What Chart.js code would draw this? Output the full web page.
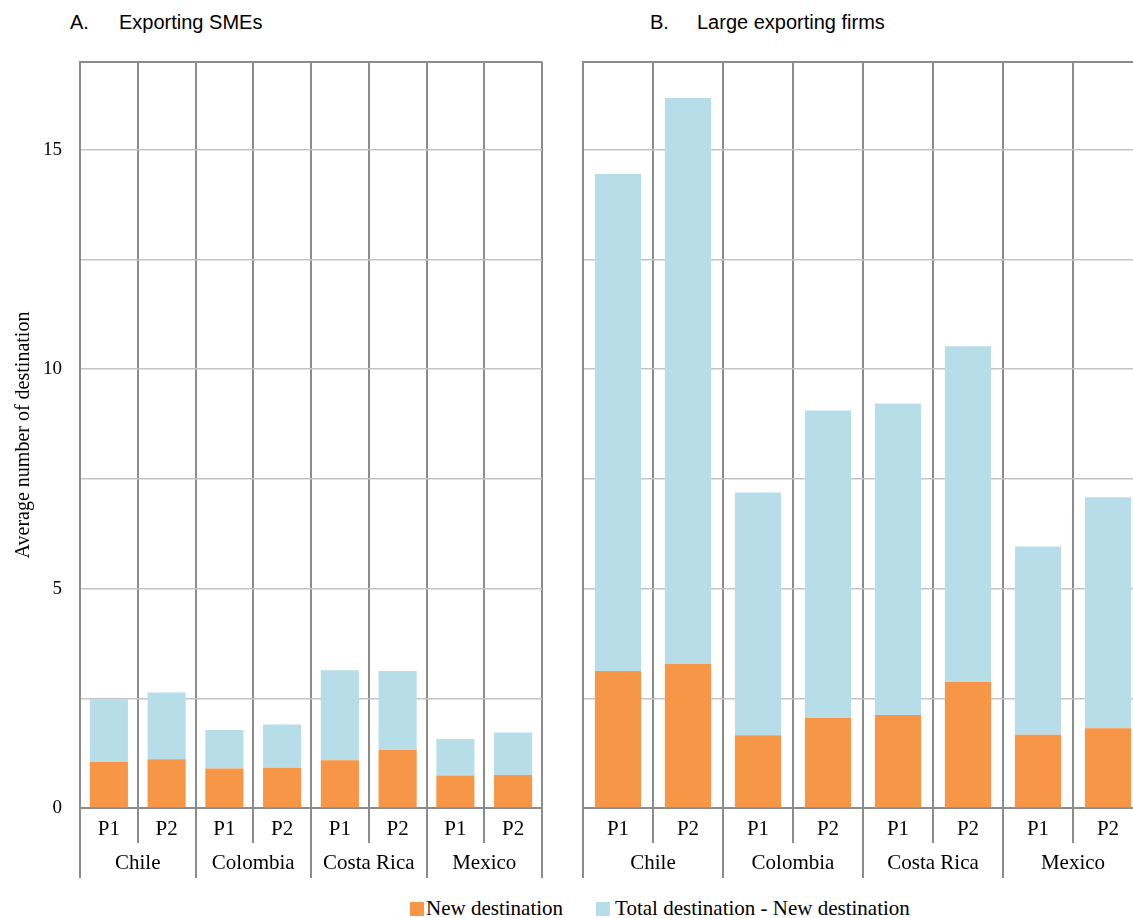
<!DOCTYPE html>
<html>
<head>
<meta charset="utf-8">
<script src="https://cdn.jsdelivr.net/npm/chart.js@4.4.1/dist/chart.umd.min.js"></script>
<style>
body{margin:0;width:1133px;height:918px;overflow:hidden;background:#fff;position:relative;}
.titulo{position:absolute;top:11px;font-family:"Liberation Sans",Arial,sans-serif;font-size:20px;color:#000;white-space:nowrap;}
canvas{position:absolute;top:0;}
#leyenda{position:absolute;top:896px;left:410px;font-family:"Liberation Serif","Times New Roman",serif;font-size:21px;color:#000;white-space:nowrap;display:flex;}
#leyenda .item{display:flex;align-items:center;margin-right:33px;}
#leyenda .cuadro{width:14px;height:14px;margin-right:2px;}
#leyenda .item + .item .cuadro{margin-right:5px;}
</style>
</head>
<body>
<div class="titulo" style="left:70px">A.</div>
<div class="titulo" style="left:119px">Exporting SMEs</div>
<div class="titulo" style="left:650px">B.</div>
<div class="titulo" style="left:697px">Large exporting firms</div>
<canvas id="graficaA" width="560" height="880" style="left:0"></canvas>
<canvas id="graficaB" width="600" height="880" style="left:563px"></canvas>
<div id="leyenda"></div>
<script>
var periodos = ['P1','P2','P1','P2','P1','P2','P1','P2'];
var paises = ['Chile','Colombia','Costa Rica','Mexico'];

var pymesNuevo = [1.05, 1.11, 0.90, 0.92, 1.09, 1.32, 0.74, 0.75];
var pymesTotal = [2.48, 2.63, 1.78, 1.90, 3.14, 3.12, 1.57, 1.72];
var grandesNuevo = [3.12, 3.28, 1.66, 2.05, 2.12, 2.87, 1.67, 1.82];
var grandesTotal = [14.45, 16.18, 7.19, 9.06, 9.22, 10.52, 5.96, 7.08];

var lineasY = [0, 2.5, 5, 7.5, 10, 12.5, 15, 17];
var etiquetasY = [0, 5, 10, 15];

var nombres = ['New destination', 'Total destination - New destination'];
var colores = ['#F79646', '#B7DDE8'];

var gris = '#8c8c8c';
var grisClaro = '#c3c3c3';

Chart.defaults.font.family = '"Liberation Serif", "Times New Roman", serif';
Chart.defaults.color = '#000';

function restar(total, nuevo){
	return total.map(function(t, i){ return +(t - nuevo[i]).toFixed(2); });
}

function datos(nuevo, total){
	var series = [nuevo, restar(total, nuevo)];
	return {
		labels: periodos,
		datasets: series.map(function(s, i){
			return {
				label: nombres[i],
				data: s,
				backgroundColor: colores[i],
				borderWidth: 0,
				barPercentage: 0.66,
				categoryPercentage: 1
			};
		})
	};
}

function opciones(conEje, relleno){
	return {
		responsive: false,
		animation: false,
		devicePixelRatio: 1,
		layout: {padding: relleno, autoPadding: false},
		plugins: {legend: {display: false}, tooltip: {enabled: false}},
		scales: {
			x: {
				stacked: true,
				offset: true,
				weight: 0,
				grid: {offset: true, color: gris, lineWidth: 2, tickLength: 35},
				border: {color: gris, width: 2},
				ticks: {font: {size: 21}, padding: -26, maxRotation: 0, autoSkip: false},
				afterFit: function(eje){ eje.height = 35; }
			},
			x2: {
				type: 'category',
				labels: paises,
				position: 'bottom',
				offset: true,
				weight: 1,
				grid: {offset: true, drawOnChartArea: false, color: gris, lineWidth: 2, tickLength: 35},
				border: {display: false},
				ticks: {font: {size: 21}, padding: -27, maxRotation: 0, autoSkip: false},
				afterFit: function(eje){ eje.height = 35; }
			},
			y: {
				stacked: true,
				min: 0,
				max: 17,
				afterBuildTicks: function(eje){
					eje.ticks = lineasY.map(function(v){ return {value: v}; });
				},
				grid: {
					drawTicks: false,
					color: function(c){ return (c.tick && c.tick.value === 17) ? gris : grisClaro; },
					lineWidth: function(c){ return (c.tick && c.tick.value === 17) ? 2 : 1.5; }
				},
				border: {color: gris, width: 2},
				ticks: {
					display: conEje,
					padding: 18,
					font: {size: 19},
					callback: function(v){ return etiquetasY.indexOf(v) >= 0 ? v : ''; }
				},
				title: {
					display: conEje,
					text: 'Average number of destination',
					font: {size: 20},
					padding: {top: 12, bottom: 0}
				},
				afterFit: function(eje){ eje.width = conEje ? 80 : 0; }
			}
		}
	};
}

var graficaA = new Chart(document.getElementById('graficaA'), {
	type: 'bar',
	data: datos(pymesNuevo, pymesTotal),
	options: opciones(true, {left: 0, right: 18, top: 62, bottom: 2})
});

var graficaB = new Chart(document.getElementById('graficaB'), {
	type: 'bar',
	data: datos(grandesNuevo, grandesTotal),
	options: opciones(false, {left: 20, right: 20, top: 62, bottom: 2})
});

var leyenda = document.getElementById('leyenda');
nombres.forEach(function(n, i){
	leyenda.innerHTML += '<div class="item"><div class="cuadro" style="background:' + colores[i] + '"></div><span>' + n + '</span></div>';
});
</script>
</body>
</html>
